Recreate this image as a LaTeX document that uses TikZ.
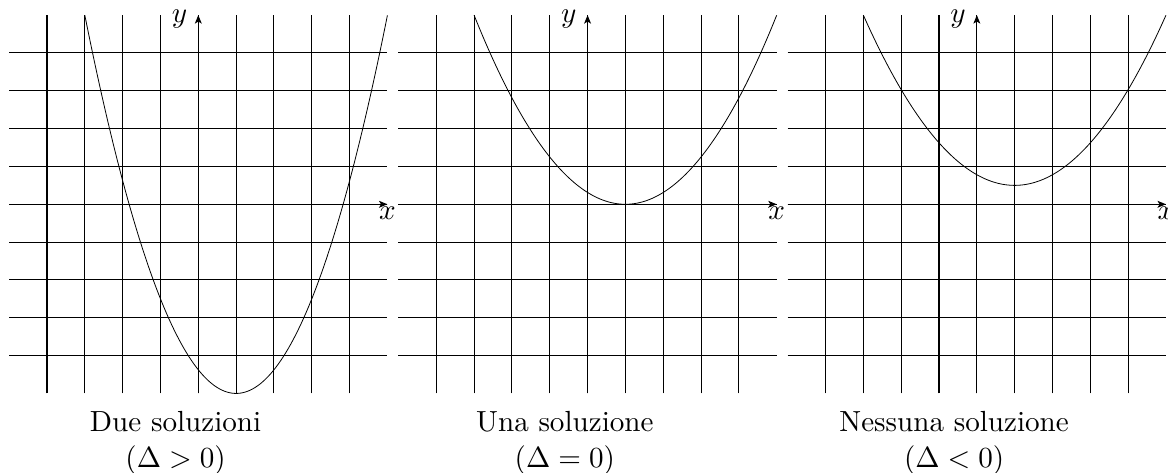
\documentclass[tikz,border=0pt,11pt]{standalone}
\usepackage{tikz}
\usetikzlibrary{arrows.meta}

\begin{document}
\begin{tikzpicture}[
  x=0.5cm, y=0.5cm,
  gridline/.style={line width=0.4pt},
  axisline/.style={line width=0.4pt, -{Stealth[length=3.2pt, width=2.6pt, inset=0.8pt]}},
  curve/.style={line width=0.3pt},
  caption/.style={anchor=base, align=center}
]
\useasboundingbox (-5.242,-7.077) rectangle (25.633,5.40);

\begin{scope}
\foreach \k in {-4,...,4} {
  \draw[gridline] (\k,-5) -- (\k,5);
  \draw[gridline] (-5,\k) -- (5,\k);
}
\draw[axisline] (-5,0) -- (5,0);
\draw[axisline] (0,-5) -- (0,5);
\node[below, inner sep=0.9pt] (xa) at (5,0) {$x$};
\node[anchor=base east, inner sep=4pt] (ya) at (0,4.8) {$y$};
\draw[curve] plot[domain=-3:5, samples=120] (\x, {0.625*(\x-1)^2-5});
\node[caption] (due) at (-0.6,-6) {Due soluzioni};
\node[caption] (deltaa) at (-0.6,-6.95) {$(\Delta>0)$};
\end{scope}

\begin{scope}[shift={(10.29,0)}]
\foreach \k in {-4,...,4} {
  \draw[gridline] (\k,-5) -- (\k,5);
  \draw[gridline] (-5,\k) -- (5,\k);
}
\draw[axisline] (-5,0) -- (5,0);
\draw[axisline] (0,-5) -- (0,5);
\node[below, inner sep=0.9pt] (xb) at (5,0) {$x$};
\node[anchor=base east, inner sep=4pt] (yb) at (0,4.8) {$y$};
\draw[curve] plot[domain=-3:5, samples=120] (\x, {0.3125*(\x-1)^2});
\node[caption] (una) at (-0.6,-6) {Una soluzione};
\node[caption] (deltab) at (-0.6,-6.95) {$(\Delta=0)$};
\end{scope}

\begin{scope}[shift={(20.58,0)}]
\foreach \k in {-4,...,4} {
  \draw[gridline] (\k,-5) -- (\k,5);
  \draw[gridline] (-5,\k) -- (5,\k);
}
\draw[axisline] (-5,0) -- (5,0);
\draw[axisline] (0,-5) -- (0,5);
\node[below, inner sep=0.9pt] (xc) at (5,0) {$x$};
\node[anchor=base east, inner sep=4pt] (yc) at (0,4.8) {$y$};
\draw[curve] plot[domain=-3:5, samples=120] (\x, {0.28125*(\x-1)^2+0.5});
\node[caption] (nessuna) at (-0.6,-6) {Nessuna soluzione};
\node[caption] (deltac) at (-0.6,-6.95) {$(\Delta<0)$};
\end{scope}

\end{tikzpicture}
\end{document}
